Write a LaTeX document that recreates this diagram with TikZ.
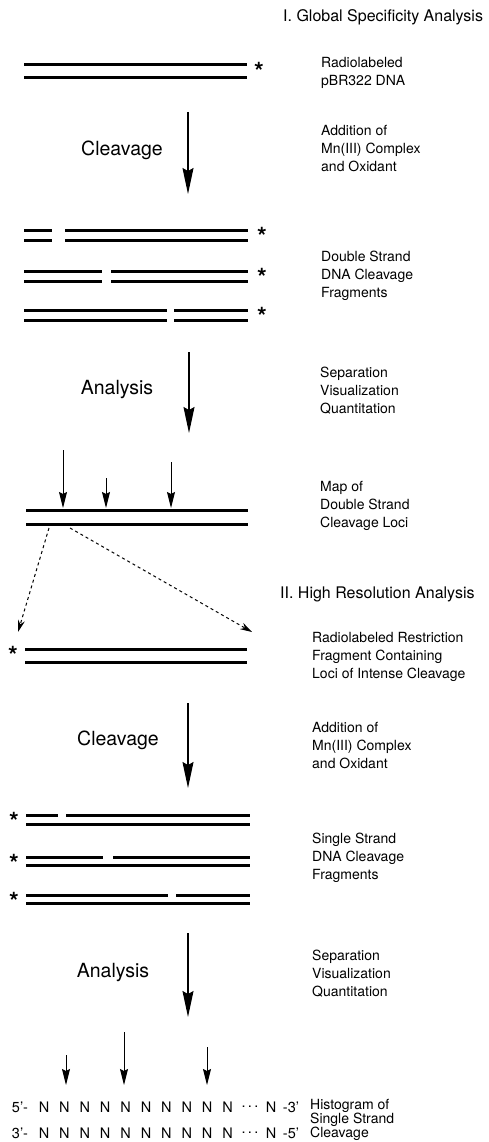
\documentclass[tikz,border=0pt]{standalone}
\usepackage{fontspec}
\setmainfont{TeX Gyre Heros}
\usetikzlibrary{arrows.meta}
\begin{document}
\begin{tikzpicture}[x=1pt,y=-1pt,
  lbl/.style={anchor=west,align=left,inner sep=0pt,font=\fontsize{14}{18}\selectfont},
  ttl/.style={anchor=west,inner sep=0pt,font=\fontsize{16}{18}\selectfont},
  verb/.style={inner sep=0pt,font=\fontsize{19.5}{22}\selectfont},
  strand/.style={line width=3pt},
  bigarrow/.style={line width=1.1pt,-{Stealth[length=26pt,width=11pt,inset=3pt]}},
  smallarrow/.style={line width=1pt,-{Stealth[length=16pt,width=8pt,inset=2pt]}},
  dasharrow/.style={line width=1pt,dash pattern=on 3pt off 3pt,-{Stealth[length=12pt,width=7pt]}},
  staru/.style={inner sep=0pt,anchor=north,font=\bfseries\fontsize{25}{25}\selectfont},
  seq/.style={inner sep=0pt,font=\fontsize{14.5}{14.5}\selectfont},
]
\useasboundingbox (0,0) rectangle (488,1142);

% ---------- Section I ----------
\node[ttl] (t1) at (283,17) {I. Global Specificity Analysis};

\draw[strand] (24,65) -- (247,65);
\draw[strand] (24,78) -- (247,78);
\node[staru] (s0) at (259,62) {*};
\node[lbl] (l1) at (321,73) {Radiolabeled\\pBR322 DNA};

\coordinate (a1s) at (188,112);
\coordinate (a1e) at (188,194);
\draw[bigarrow] (a1s) -- (a1e);
\node[verb] (v1) at (122,150) {Cleavage};
\node[lbl] (l2) at (321,149) {Addition of\\Mn(III) Complex\\and Oxidant};

% fragments
\draw[strand] (24,230) -- (52,230) (65,230) -- (248,230);
\draw[strand] (24,240) -- (52,240) (65,240) -- (248,240);
\draw[strand] (24,271) -- (102,271) (111,271) -- (248,271);
\draw[strand] (24,281) -- (102,281) (111,281) -- (248,281);
\draw[strand] (24,310) -- (167,310) (174,310) -- (248,310);
\draw[strand] (24,320) -- (167,320) (174,320) -- (248,320);
\node[staru] (s1) at (262,227) {*};
\node[staru] (s2) at (262,268) {*};
\node[staru] (s3) at (262,307) {*};
\node[lbl] (l3) at (321,276) {Double Strand\\DNA Cleavage\\Fragments};

\coordinate (a2s) at (189,352);
\coordinate (a2e) at (189,433);
\draw[bigarrow] (a2s) -- (a2e);
\node[verb] (v2) at (117,390) {Analysis};
\node[lbl] (l4) at (320,391) {Separation\\Visualization\\Quantitation};

% map
\draw[strand] (26,510) -- (248,510);
\draw[strand] (26,524) -- (248,524);
\coordinate (m1s) at (63,450);  \coordinate (m1e) at (63,508);
\coordinate (m2s) at (106,478); \coordinate (m2e) at (106,508);
\coordinate (m3s) at (171,462); \coordinate (m3e) at (171,508);
\draw[smallarrow] (m1s) -- (m1e);
\draw[smallarrow] (m2s) -- (m2e);
\draw[smallarrow] (m3s) -- (m3e);
\node[lbl] (l5) at (320,506) {Map of\\Double Strand\\Cleavage Loci};

\coordinate (d1s) at (49,528);  \coordinate (d1e) at (18,632);
\coordinate (d2s) at (70,528);  \coordinate (d2e) at (252,632);
\draw[dasharrow] (d1s) -- (d1e);
\draw[dasharrow] (d2s) -- (d2e);

% ---------- Section II ----------
\node[ttl] (t2) at (280,594) {II. High Resolution Analysis};

\draw[strand] (25,649) -- (247,649);
\draw[strand] (25,662) -- (247,662);
\node[staru] (s4) at (13,646) {*};
\node[lbl] (l6) at (312,657) {Radiolabeled Restriction\\Fragment Containing\\Loci of Intense Cleavage};

\coordinate (a3s) at (188,703);
\coordinate (a3e) at (188,788);
\draw[bigarrow] (a3s) -- (a3e);
\node[verb] (v3) at (118,740) {Cleavage};
\node[lbl] (l7) at (312,745) {Addition of\\Mn(III) Complex\\and Oxidant};

% single strand fragments
\draw[strand] (26,815) -- (58,815) (66,815) -- (250,815);
\draw[strand] (26,824) -- (250,824);
\draw[strand] (26,857) -- (103,857) (113,857) -- (250,857);
\draw[strand] (26,865) -- (250,865);
\draw[strand] (26,895) -- (168,895) (176,895) -- (250,895);
\draw[strand] (26,903) -- (250,903);
\node[staru] (s5) at (14,812) {*};
\node[staru] (s6) at (14,854) {*};
\node[staru] (s7) at (14,892) {*};
\node[lbl] (l8) at (312,858) {Single Strand\\DNA Cleavage\\Fragments};

\coordinate (a4s) at (188,933);
\coordinate (a4e) at (188,1017);
\draw[bigarrow] (a4s) -- (a4e);
\node[verb] (v4) at (113,973) {Analysis};
\node[lbl] (l9) at (312,974) {Separation\\Visualization\\Quantitation};

% histogram
\node[seq] (p5) at (20,1107) {5'-};
\node[seq] (p3) at (20,1133) {3'-};
\foreach \i in {0,...,9} {
  \node[seq] (ta\i) at ({44+20.4*\i},1107) {N};
  \node[seq] (tb\i) at ({44+20.4*\i},1133) {N};
}
\node[seq] (da) at (250,1107) {.\,.\,.};
\node[seq] (db) at (250,1133) {.\,.\,.};
\node[seq] (na) at (271,1107) {N};
\node[seq] (nb) at (271,1133) {N};
\node[seq] (ea) at (291,1107) {-3'};
\node[seq] (eb) at (291,1133) {-5'};
\node[lbl,font=\fontsize{14}{14}\selectfont] (l10) at (310,1120) {Histogram of\\Single Strand\\Cleavage};

\coordinate (h1s) at (66,1055);  \coordinate (h1e) at (66,1085);
\coordinate (h2s) at (124,1032); \coordinate (h2e) at (124,1085);
\coordinate (h3s) at (207,1047); \coordinate (h3e) at (207,1085);
\draw[smallarrow] (h1s) -- (h1e);
\draw[smallarrow] (h2s) -- (h2e);
\draw[smallarrow] (h3s) -- (h3e);
\end{tikzpicture}
\end{document}
